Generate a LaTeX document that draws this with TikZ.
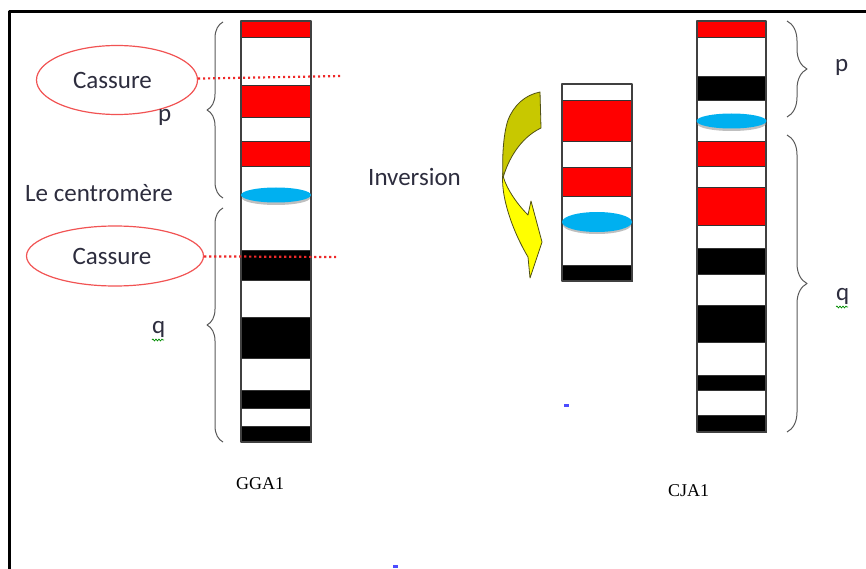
\documentclass[tikz,border=0pt]{standalone}
\usepackage{fontspec}
\setmainfont{Carlito}
\newfontfamily\serifname{Liberation Serif}
\usetikzlibrary{shapes.geometric,decorations.pathreplacing,decorations.pathmorphing}

\definecolor{bandred}{RGB}{255,0,0}
\definecolor{centro}{RGB}{0,176,240}
\definecolor{txtcol}{RGB}{45,45,62}
\definecolor{backyel}{RGB}{200,200,0}
\definecolor{frontyel}{RGB}{255,255,0}
\definecolor{arrline}{RGB}{80,80,20}
\definecolor{cutred}{RGB}{238,40,40}

\begin{document}
\begin{tikzpicture}[x=1pt,y=-1pt,line join=round,
	lbl/.style={font=\fontsize{25}{28}\selectfont,text=txtcol,inner sep=0,anchor=base west},
	chrlbl/.style={font=\serifname\fontsize{18}{20}\selectfont,text=black,inner sep=0,anchor=base west},
	cassure/.style={ellipse,draw=cutred!80,line width=1.2,font=\fontsize{25}{28}\selectfont,text=txtcol},
	cutline/.style={cutred,line width=2.2,dash pattern=on 2.2pt off 2.8pt},
	chromo/.style={draw=black!75,line width=1.5},
	band/.style={draw=black!80,line width=.6},
	brace/.style={draw=black!65,line width=1,decorate,decoration={brace,amplitude=#1}},
	spell/.style={green!55!black,line width=.7,decorate,decoration={snake,amplitude=1,segment length=3}}]
	\useasboundingbox (0,0) rectangle (866,569);
	% page frame, cut on the right and at the bottom
	\draw[line width=3] (9.5,569) -- (9.5,11.5) -- (866,11.5);

	% GGA1
	\foreach \a/\b/\c in {21/37/bandred,85/117/bandred,141/166/bandred,250/280/black,317/358/black,390/408/black,426/442/black}
		\filldraw[band,fill=\c] (241,\a) rectangle (311,\b);
	\draw[chromo] (241,21) rectangle (311,442);
	\fill[black!25] (276,198) ellipse [x radius=34, y radius=7];
	\fill[centro] (276,195) ellipse [x radius=35, y radius=7.5];
	\draw[brace=16] (223,198) -- (223,22);
	\draw[brace=16] (223,442) -- (223,208);
	\node[chrlbl] (gga) at (236,489) {GGA1};

	% breaks on GGA1
	\node[cassure,minimum width=161,minimum height=69] (cas1) at (117,80) {Cassure\hspace*{9pt}};
	\node[cassure,minimum width=177,minimum height=60] (cas2) at (115,256) {Cassure\hspace*{6pt}};
	\coordinate (cut1) at (343,76);
	\coordinate (cut2) at (336,257);
	\draw[cutline] (cas1) -- (cut1);
	\draw[cutline] (cas2) -- (cut2);

	\node[lbl] (pl) at (158,122) {p};
	\node[lbl] (centrolbl) at (25,201) {Le centromère};
	\node[lbl] (ql) at (152,333) {q};
	\draw[spell] (152,340) -- (164,340);

	% inverted segment
	\node[lbl] (inv) at (368,186) {Inversion};
	\filldraw[fill=backyel,draw=arrline,line width=.8] (540,92)
		.. controls (525,95) and (514,105) .. (508,120)
		.. controls (503,135) and (502,160) .. (503,178)
		.. controls (508,160) and (520,138) .. (541,128) -- cycle;
	\filldraw[fill=frontyel,draw=arrline,line width=.8] (503,172)
		.. controls (500,195) and (512,230) .. (528,257)
		-- (530,278) -- (542,242) -- (531,201) -- (528,215)
		.. controls (518,205) and (507,190) .. (503,176) -- cycle;
	\foreach \a/\b/\c in {100/141/bandred,167/196/bandred,265/281/black}
		\filldraw[band,fill=\c] (562,\a) rectangle (632,\b);
	\draw[chromo] (562,84) rectangle (632,281);
	\fill[black!25] (597,225) ellipse [x radius=34, y radius=9];
	\fill[centro] (597,222) ellipse [x radius=35, y radius=10];

	% CJA1
	\foreach \a/\b/\c in {21/37/bandred,76/100/black,141/166/bandred,187/225/bandred,248/274/black,305/342/black,375/390/black,415/432/black}
		\filldraw[band,fill=\c] (697,\a) rectangle (766,\b);
	\draw[chromo] (697,21) rectangle (766,432);
	\fill[black!25] (731.5,124) ellipse [x radius=34, y radius=7];
	\fill[centro] (731.5,121) ellipse [x radius=35, y radius=7.5];
	\draw[brace=20] (787,21) -- (787,117);
	\draw[brace=20] (787,135) -- (787,432);
	\node[lbl] (pr) at (835,72) {p};
	\node[lbl] (qr) at (836,300) {q};
	\draw[spell] (836,307) -- (848,307);
	\node[chrlbl] (cja) at (668,496) {CJA1};

	% stray marks
	\fill[blue!70] (564,404) rectangle (569,407);
	\fill[blue!70] (393,565) rectangle (398,568);
\end{tikzpicture}
\end{document}
